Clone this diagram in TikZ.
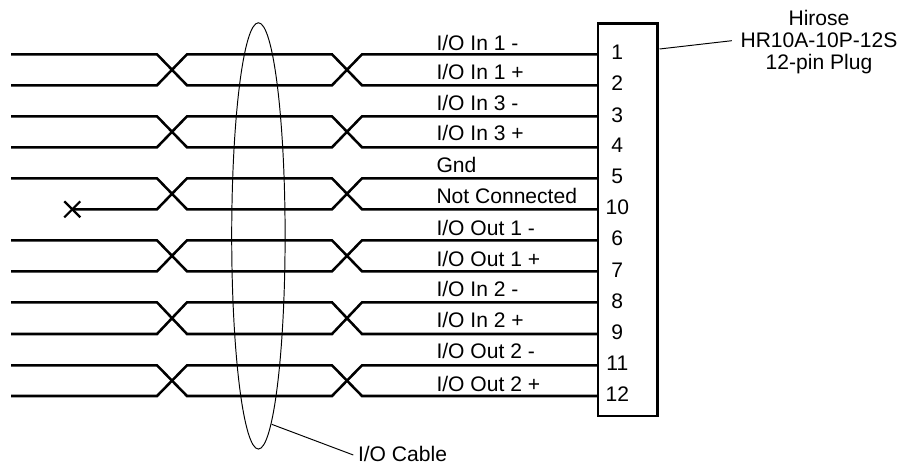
\documentclass[tikz,border=0pt]{standalone}
\usepackage{fontspec}
\setmainfont{Liberation Sans}
\tikzset{
  wire/.style={line width=1.9pt,line join=miter,black},
  thin line/.style={line width=0.72pt,black},
  plug/.style={draw,line width=1.9pt,inner sep=0pt,outer sep=0pt,minimum width=59.5\pxu,minimum height=392.5\pxu,anchor=north west},
  txt/.style={inner sep=0pt,outer sep=0pt,font=\fontsize{15.8}{16.5}\selectfont},
  siglabel/.style={txt,anchor=base west},
  pin/.style={txt,anchor=center},
  cable/.style={draw,line width=0.72pt,ellipse,inner sep=0pt,outer sep=0pt,minimum width=53.4\pxu,minimum height=426.3\pxu},
}
\newdimen\pxu \pxu=0.75pt
\usetikzlibrary{shapes.geometric}
\begin{document}
\begin{tikzpicture}[x=0.75pt,y=-0.75pt]
\useasboundingbox (0,0) rectangle (899,464);
% plug body
\node[plug] (plug) at (597.8,23.4) {};
% wires: pairs (top y, bottom y, pair index)
\foreach \t/\b/\i in {54.3/85.3/1,116.3/147.3/2,178.3/209.3/3,240.3/271.3/4,302.3/334/5,365.3/396/6}{
  \coordinate (ta\i) at (11,\t);
  \coordinate (tb\i) at (157,\t);
  \coordinate (tc\i) at (187,\t);
  \coordinate (td\i) at (332,\t);
  \coordinate (te\i) at (362,\t);
  \coordinate (ba\i) at (11,\b);
  \coordinate (bb\i) at (157,\b);
  \coordinate (bc\i) at (187,\b);
  \coordinate (bd\i) at (332,\b);
  \coordinate (be\i) at (362,\b);
  \draw[wire] (ta\i) -- (tb\i) -- (bc\i) -- (bd\i) -- (te\i) -- (te\i -| plug.west);
  \ifnum\i=3
    \coordinate (nc) at (72.3,\b);
    \draw[wire] (nc) -- (bb\i) -- (tc\i) -- (td\i) -- (be\i) -- (be\i -| plug.west);
  \else
    \draw[wire] (ba\i) -- (bb\i) -- (tc\i) -- (td\i) -- (be\i) -- (be\i -| plug.west);
  \fi
}
% no-connect mark
\draw[line width=1.7pt] ([shift={(-8,-8)}]nc) -- ([shift={(8,8)}]nc);
\draw[line width=1.7pt] ([shift={(-8,8)}]nc) -- ([shift={(8,-8)}]nc);
% cable ellipse
\node[cable] (cbl) at (258.4,235.9) {};
% signal labels
\node[siglabel] (s1) at (436.5,50.5) {I/O In 1 -};
\node[siglabel] (s2) at (436.5,79.5) {I/O In 1 +};
\node[siglabel] (s3) at (436.5,110) {I/O In 3 -};
\node[siglabel] (s4) at (436.5,140.7) {I/O In 3 +};
\node[siglabel] (s5) at (436.5,172) {Gnd};
\node[siglabel] (s6) at (436.5,203) {Not Connected};
\node[siglabel] (s7) at (436.5,235) {I/O Out 1 -};
\node[siglabel] (s8) at (436.5,266) {I/O Out 1 +};
\node[siglabel] (s9) at (436.5,296.7) {I/O In 2 -};
\node[siglabel] (s10) at (436.5,327.7) {I/O In 2 +};
\node[siglabel] (s11) at (436.5,358) {I/O Out 2 -};
\node[siglabel] (s12) at (436.5,391.7) {I/O Out 2 +};
% pin numbers
\foreach \n/\y in {1/52,2/83,3/115,4/145,5/176,10/207,6/238,7/270,8/301,9/332,11/363,12/394}{
  \node[pin] (p\n) at (617.3,\y) {\n};
}
% callouts
\node[txt,align=center,anchor=north,font=\fontsize{15.8}{16.5}\selectfont] (hirose) at (819,10) {Hirose\\HR10A-10P-12S\\12-pin Plug};
\node[siglabel] (iocable) at (358,461.5) {I/O Cable};
\coordinate (hl) at (659.5,49);
\coordinate (hr) at (731.8,40.7);
\draw[thin line] (hl) -- (hr);
\coordinate (cl) at (271.7,424.3);
\coordinate (cr) at (353.3,455);
\draw[thin line] (cl) -- (cr);
\end{tikzpicture}
\end{document}
